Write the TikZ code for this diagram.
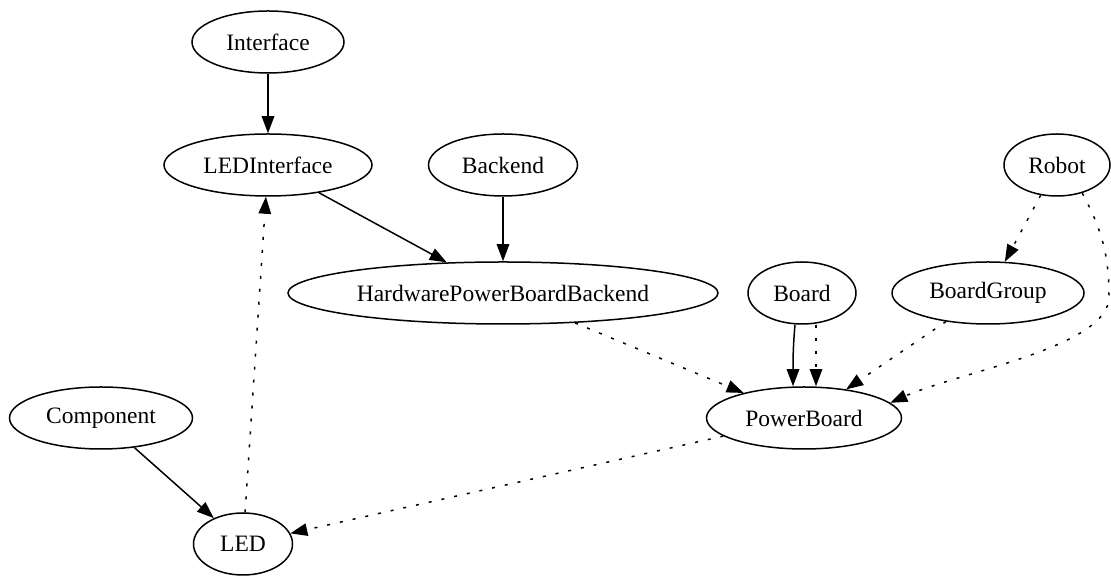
\documentclass[tikz,border=0pt]{standalone}
\usepackage{fontspec}
\setmainfont{Liberation Serif}
\usetikzlibrary{shapes.geometric,arrows.meta}

\begin{document}
\begin{tikzpicture}[x=1pt,y=1pt,
  cls/.style={draw,ellipse,inner sep=0pt,minimum height=62pt,line width=1.5pt,
    font=\fontsize{23.5pt}{28pt}\selectfont},
  inh/.style={-{Triangle[length=17pt,width=12.5pt]},line width=1.5pt},
  dep/.style={inh,dash pattern=on 3pt off 10pt}]
\useasboundingbox (0,0) rectangle (1111,577);

\node[cls,minimum width=152pt] (iface) at (268,535) {Interface};
\node[cls,minimum width=208pt] (ledif) at (268,412) {LEDInterface};
\node[cls,minimum width=149pt] (backend) at (503,412) {Backend};
\node[cls,minimum width=106pt] (robot) at (1057,412) {Robot};
\node[cls,minimum width=430pt] (hwpbb) at (503,284) {HardwarePowerBoardBackend};
\node[cls,minimum width=108pt] (board) at (802,284) {Board};
\node[cls,minimum width=192pt] (bgroup) at (988,284) {BoardGroup};
\node[cls,minimum width=183pt] (comp) at (101,159) {Component};
\node[cls,minimum width=195pt] (pboard) at (804,159) {PowerBoard};
\node[cls,minimum width=99pt] (led) at (243,33) {LED};
\coordinate (rbend) at (1109,280);

\draw[inh] (iface) -- (ledif);
\draw[inh] (ledif) -- (hwpbb);
\draw[inh] (backend) -- (hwpbb);
\draw[dep] (robot) -- (bgroup);
\draw[dep] (robot.-48) to[out=-62,in=90] (rbend)
  to[out=-90,in=24,out distance=50pt,in distance=76pt] (pboard.10);
\draw[dep] (hwpbb) -- (pboard);
\draw[inh] ([xshift=-7pt]board.south) to[out=-95,in=90] ([xshift=-11pt]pboard.north);
\draw[dep] ([xshift=14pt]board.south) -- ([xshift=12pt]pboard.north);
\draw[dep] (bgroup) -- (pboard);
\draw[inh] (comp) -- (led);
\draw[dep] (led) -- (ledif);
\draw[dep] (pboard) -- (led);
\end{tikzpicture}
\end{document}
